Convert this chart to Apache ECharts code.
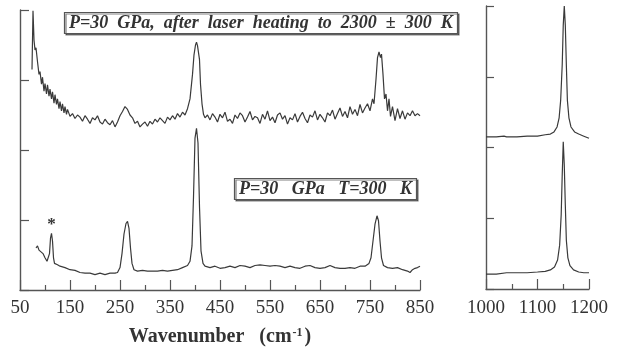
<!DOCTYPE html>
<html>
<head>
<meta charset="utf-8">
<script src="https://cdn.jsdelivr.net/npm/echarts@6/dist/echarts.min.js"></script>
<style>
  html, body { margin: 0; background: #fff; }
  #chart { width: 621px; height: 352px; }
</style>
</head>
<body>
<div id="chart"></div>
<script>
// Raman spectra, arbitrary intensity units (0..400 per panel)

// after laser heating, low-frequency range
const hotWn = [74,76,78,80,82,85,88,90,93,95,98,100,103,105,108,110,113,115,118,120,123,125,128,130,133,135,138,140,143,145,
  150,155,160,165,170,175,180,185,190,195,200,205,210,215,220,225,230,235,240,245,250,255,260,265,270,275,280,285,290,295,
  300,305,310,315,320,325,330,335,340,345,350,355,360,365,370,375,380,385,390,395,398,401,403,405,407,409,411,414,417,420,
  425,430,435,440,445,450,455,460,465,470,475,480,485,490,495,500,505,510,515,520,525,530,535,540,545,550,555,560,565,570,
  575,580,585,590,595,600,605,610,615,620,625,630,635,640,645,650,655,660,665,670,675,680,685,690,695,700,705,710,715,720,
  725,730,735,740,745,750,755,758,762,765,768,771,773,776,779,782,785,788,791,795,800,805,810,815,820,825,830,835,840,845,850];
const hotInt = [315,399,357,343,346,326,308,312,294,304,284,295,280,293,277,287,273,283,267,279,265,273,259,269,256,266,253,262,251,258,
  248,252,245,250,247,241,249,244,238,246,243,249,240,237,244,239,236,242,233,240,249,255,262,258,250,246,238,241,233,237,
  240,234,241,237,244,240,246,242,238,247,243,249,244,252,247,254,250,259,273,308,336,350,354,349,351,329,294,266,251,246,
  250,243,252,247,240,251,246,254,241,244,238,250,245,253,249,240,247,255,243,248,246,238,251,244,256,242,247,239,250,253,
  244,249,237,246,243,252,240,248,254,245,239,250,247,256,243,251,246,240,253,249,257,244,252,260,248,255,246,262,251,258,
  249,265,253,260,266,256,273,266,301,332,340,332,337,308,273,280,256,273,248,262,242,259,245,256,244,253,249,256,249,252,249];

// T = 300 K, low-frequency range
const coldWn = [82,85,88,92,96,100,104,107,109,111,113,115,117,119,125,130,140,150,160,170,180,190,200,210,220,230,240,245,250,254,
  258,262,265,268,271,274,278,285,295,305,315,325,335,345,355,365,375,385,390,394,397,400,403,406,409,412,416,420,430,440,
  450,460,470,480,490,500,510,520,530,540,550,560,570,580,590,600,610,620,630,640,650,660,670,680,690,700,710,720,730,740,
  748,752,756,760,764,767,770,773,777,785,795,805,815,825,830,835,840,845,850];
const coldInt = [60,63,57,56,52,46,41,41,52,74,81,70,46,38,36,34,32,29,28,25,24,24,22,24,22,24,24,25,32,52,
  80,95,98,88,60,38,29,27,28,27,27,27,28,27,28,29,32,35,41,63,133,217,231,210,119,56,38,34,32,34,
  31,32,34,32,35,34,32,35,36,35,34,35,34,32,34,32,31,34,35,32,31,32,35,32,31,31,32,31,34,34,
  38,46,70,94,106,99,70,46,35,32,31,32,29,27,25,29,31,32,34];

// high-frequency range (right panel)
const hfWn = [1000,1020,1035,1040,1060,1080,1100,1115,1125,1132,1138,1142,1145,1148,1150,1152,1154,1156,1158,1161,1165,1172,1180,1190,1200];
const hfHotInt = [215,215,216,215,215,216,216,218,219,222,229,242,267,317,373,400,373,317,267,242,229,222,219,216,213];
const hfColdWn = [1000,1020,1040,1060,1080,1100,1115,1125,1133,1139,1143,1146,1148,1150,1152,1154,1156,1159,1163,1170,1180,1190,1200];
const hfColdInt = [21,21,23,23,23,24,25,27,31,41,62,105,161,208,175,119,69,44,33,27,24,23,23];

const starWn = 113;  // impurity line marked with *

const lowTicks = [50, 850, 100];
const highTicks = [1000, 1200, 100];
const hotLabel = 'P=30  GPa,  after  laser  heating  to  2300  ±  300  K';
const coldLabel = 'P=30   GPa   T=300   K';

const zip = (xs, ys) => {
  if (xs.length !== ys.length) throw new Error('length mismatch ' + xs.length + ' vs ' + ys.length);
  return xs.map((x, i) => [x, ys[i]]);
};

const serif = 'Liberation Serif';
const ink = '#3a3a3a';
const axisColor = '#555';

function xAxisOf(grid, ticks, labelMargin, extra) {
  return Object.assign({
    gridIndex: grid,
    type: 'value',
    min: ticks[0], max: ticks[1], interval: ticks[2],
    axisLine: { show: true, onZero: false, lineStyle: { color: axisColor, width: 1.4 } },
    axisTick: { show: true, inside: true, length: 10, lineStyle: { color: axisColor, width: 1.2 } },
    minorTick: { show: true, splitNumber: 2, length: 5, lineStyle: { color: axisColor, width: 1.2 } },
    axisLabel: { color: '#333', fontFamily: serif, fontSize: 19, margin: labelMargin, formatter: v => String(v) },
    splitLine: { show: false }
  }, extra || {});
}

function yAxisOf(grid, tickLen) {
  return {
    gridIndex: grid,
    type: 'value',
    min: 0, max: 400, interval: 100,
    axisLine: { show: true, onZero: false, lineStyle: { color: axisColor, width: 1.4 } },
    axisTick: { show: true, inside: true, length: tickLen, lineStyle: { color: axisColor, width: 1.2 } },
    axisLabel: { show: false },
    splitLine: { show: false }
  };
}

function boxTitle(text, left, top) {
  return {
    text: text,
    left: left, top: top,
    padding: [2, 5, 2, 5],
    backgroundColor: '#fff',
    borderColor: '#555',
    borderWidth: 1.2,
    shadowColor: 'rgba(0,0,0,0.5)',
    shadowOffsetX: 1.5,
    shadowOffsetY: 1.5,
    textStyle: { fontFamily: serif, fontStyle: 'italic', fontWeight: 'bold', fontSize: 18, color: '#333' }
  };
}

const lineStyle = { color: ink, width: 1.2 };
const starInt = coldInt[coldWn.indexOf(starWn)];

const chart = echarts.init(document.getElementById('chart'));
chart.setOption({
  animation: false,
  title: [boxTitle(hotLabel, 64, 12), boxTitle(coldLabel, 234, 178)],
  grid: [
    { left: 20, top: 10, width: 400, height: 285 },
    { left: 486, top: 6, width: 103, height: 283 }
  ],
  xAxis: [
    xAxisOf(0, lowTicks, 9, {
      name: 'Wavenumber   (cm{sup|-1})',
      nameLocation: 'middle',
      nameGap: 37,
      nameTextStyle: {
        fontFamily: serif, fontWeight: 'bold', fontSize: 20, color: '#333',
        rich: { sup: { fontFamily: serif, fontWeight: 'bold', fontSize: 12, color: '#333', verticalAlign: 'top', padding: [0, 2, 8, 1] } }
      }
    }),
    xAxisOf(1, highTicks, 10)
  ],
  yAxis: [yAxisOf(0, 9), yAxisOf(1, 8)],
  series: [
    { type: 'line', xAxisIndex: 0, yAxisIndex: 0, data: zip(hotWn, hotInt), showSymbol: false, lineStyle: lineStyle },
    {
      type: 'line', xAxisIndex: 0, yAxisIndex: 0, data: zip(coldWn, coldInt), showSymbol: false, lineStyle: lineStyle,
      markPoint: {
        symbol: 'circle', symbolSize: 0,
        data: [{ coord: [starWn, starInt] }],
        label: { show: true, formatter: '*', position: 'top', distance: 0, fontFamily: serif, fontWeight: 'bold', fontSize: 17, color: '#333' }
      }
    },
    { type: 'line', xAxisIndex: 1, yAxisIndex: 1, data: zip(hfWn, hfHotInt), showSymbol: false, lineStyle: lineStyle },
    { type: 'line', xAxisIndex: 1, yAxisIndex: 1, data: zip(hfColdWn, hfColdInt), showSymbol: false, lineStyle: lineStyle }
  ]
});
</script>
</body>
</html>
